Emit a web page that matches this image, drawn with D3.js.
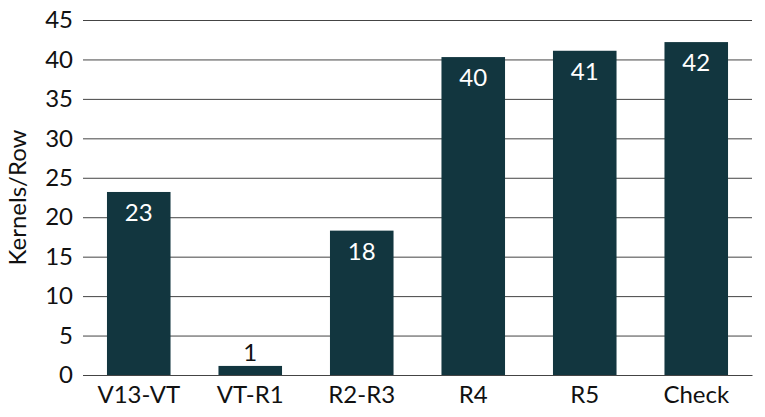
<html>
  <head>
    <meta charset="utf-8">
    <title>Kernels/Row</title>
    <style>
    body{
      margin: 0;
      background-color: white;
    }
    text{
      font-family: Lato, "Open Sans", sans-serif;
    }
    </style>
    <script src='https://d3js.org/d3.v7.min.js'></script>
  </head>
  <body>
    <div id="container"></div>
    <script>
    //size of svg chart area
    const width = 765,
          height = 417;

    //data
    var categories = ["V13-VT", "VT-R1", "R2-R3", "R4", "R5", "Check"];
    var values = [23.2, 1.15, 18.3, 40.3, 41.1, 42.2];
    var labels = ["23", "1", "18", "40", "41", "42"];
    var yTicks = [0, 5, 10, 15, 20, 25, 30, 35, 40, 45];

    var barColor = "#12363f";
    var fontSize = "24px";
    var margin = {left: 83, right: 13, top: 20, bottom: 42};

    var svg = d3.select("#container")
      .append("svg")
      .attr("width", width)
      .attr("height", height);

    var x = d3.scaleBand()
      .domain(categories)
      .range([margin.left, width - margin.right])
      .paddingInner(0.43)
      .paddingOuter(0.215);

    var y = d3.scaleLinear()
      .domain([0, 45])
      .range([height - margin.bottom, margin.top]);

    //gridlines + y tick labels
    var yAxis = svg.append("g")
      .attr("transform", "translate(" + margin.left + ",0)")
      .call(d3.axisLeft(y).tickValues(yTicks).tickSize(-(width - margin.left - margin.right)).tickPadding(10));
    yAxis.select(".domain").remove();
    yAxis.selectAll(".tick line")
      .attr("stroke", "#444")
      .attr("stroke-width", 1);
    yAxis.selectAll(".tick text")
      .attr("fill", "#111")
      .style("font-size", fontSize)
      .style("font-family", "Lato, sans-serif");

    //bars
    svg.selectAll("rect.bar")
      .data(values)
      .enter()
      .append("rect")
      .attr("class", "bar")
      .attr("x", function(d, i) {return x(categories[i]);})
      .attr("y", function(d) {return y(d);})
      .attr("width", x.bandwidth())
      .attr("height", function(d) {return y(0) - y(d);})
      .attr("fill", barColor);

    //value labels: inside the bar in white, above it if the bar is too short
    svg.selectAll("text.val")
      .data(values)
      .enter()
      .append("text")
      .attr("class", "val")
      .attr("x", function(d, i) {return x(categories[i]) + x.bandwidth() / 2;})
      .attr("y", function(d) {return d > 5 ? y(d) + 29 : y(d) - 5;})
      .attr("text-anchor", "middle")
      .attr("fill", function(d) {return d > 5 ? "white" : "#111";})
      .style("font-size", fontSize)
      .text(function(d, i) {return labels[i];});

    //x axis labels
    var xAxis = svg.append("g")
      .attr("transform", "translate(0," + y(0) + ")")
      .call(d3.axisBottom(x).tickSize(0).tickPadding(11));
    xAxis.select(".domain")
      .attr("stroke", "#444");
    xAxis.selectAll(".tick text")
      .attr("fill", "#111")
      .style("font-size", fontSize)
      .style("font-family", "Lato, sans-serif");

    //y axis title
    svg.append("text")
      .attr("transform", "translate(26," + ((margin.top + height - margin.bottom) / 2) + ") rotate(-90)")
      .attr("text-anchor", "middle")
      .attr("fill", "#111")
      .style("font-size", fontSize)
      .text("Kernels/Row");
    </script>
  </body>
</html>
